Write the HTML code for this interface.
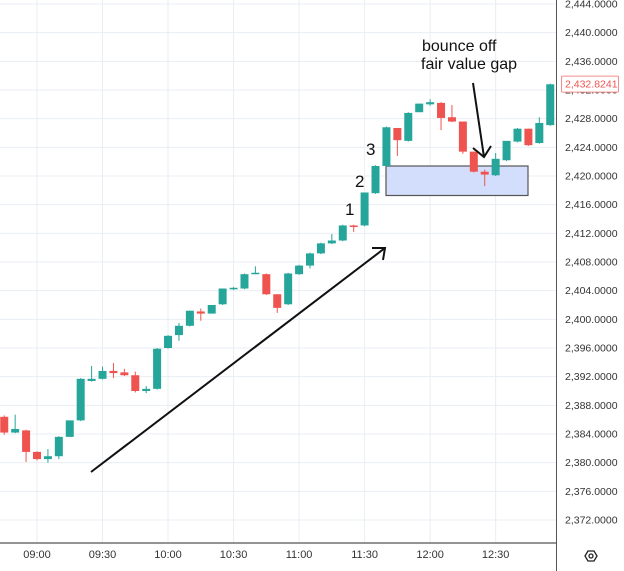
<!DOCTYPE html>
<html><head><meta charset="utf-8"><style>
html,body{margin:0;padding:0;background:#fff;}
svg{display:block;font-family:"Liberation Sans",sans-serif;}
</style></head><body>
<svg id="chart" width="624" height="571" viewBox="0 0 624 571">
<g id="grid"></g>
<rect x="386" y="166" width="142" height="29.5" fill="#d3defc" stroke="#555" stroke-width="1.2"/>
<g id="candles"></g>
<g id="axes"></g>
<g>
<line x1="91" y1="472" x2="385" y2="248" stroke="#111" stroke-width="2"/>
<polyline points="372,248 385,248 383,260" fill="none" stroke="#111" stroke-width="2"/>
<line x1="473" y1="83" x2="484" y2="157" stroke="#111" stroke-width="2"/>
<polyline points="473,148 484,157 491,146" fill="none" stroke="#111" stroke-width="2"/>
<text x="422" y="51" font-size="16" fill="#111">bounce off</text>
<text x="421" y="69" font-size="16" fill="#111">fair value gap</text>
<text x="366" y="155" font-size="17" fill="#111">3</text>
<text x="355" y="187" font-size="17" fill="#111">2</text>
<text x="345" y="215" font-size="17" fill="#111">1</text>
</g>
</svg>
<script>
const opens  = [2386.4,2384.2,2384.5,2381.5,2380.5,2380.9,2383.6,2385.9,2391.4,2391.7,2392.8,2392.6,2392.2,2390.0,2390.3,2396.0,2397.8,2399.1,2401.1,2400.8,2402.1,2404.2,2404.3,2406.4,2406.3,2403.5,2402.1,2406.3,2407.5,2409.2,2410.6,2411.0,2413.1,2413.1,2417.6,2421.4,2426.7,2424.9,2428.9,2430.0,2430.2,2428.2,2427.6,2423.4,2420.6,2420.1,2422.2,2424.8,2426.6,2424.6,2427.1];
const closes = [2384.2,2384.7,2381.5,2380.5,2380.9,2383.6,2385.9,2391.7,2391.7,2392.8,2392.5,2392.2,2390.0,2390.3,2395.9,2397.7,2399.1,2401.2,2400.8,2402.0,2404.3,2404.4,2406.3,2406.5,2403.5,2401.6,2406.4,2407.5,2409.2,2410.6,2411.0,2413.1,2412.9,2417.7,2421.4,2426.8,2425.0,2428.8,2430.1,2430.3,2428.1,2427.6,2423.4,2420.6,2420.2,2422.4,2424.9,2426.6,2424.3,2427.4,2432.8];
const highs  = [2386.6,2386.7,2384.6,2381.6,2381.9,2383.7,2385.9,2391.8,2393.5,2393.4,2393.9,2393.1,2392.7,2390.7,2396.0,2397.8,2399.5,2401.2,2401.5,2402.0,2404.3,2404.5,2406.4,2407.4,2406.4,2403.5,2406.5,2407.6,2409.3,2410.7,2411.9,2413.2,2413.2,2417.7,2421.5,2426.9,2426.7,2428.9,2430.1,2430.7,2430.3,2429.9,2427.6,2423.4,2420.9,2423.2,2424.9,2426.7,2426.6,2428.2,2432.9];
const lows   = [2383.9,2384.1,2380.1,2380.3,2380.0,2380.5,2383.6,2385.8,2391.3,2391.6,2391.8,2392.1,2389.8,2389.7,2390.2,2395.9,2397.0,2399.0,2399.8,2400.8,2402.0,2404.1,2404.2,2406.3,2403.4,2400.9,2402.0,2406.2,2407.1,2409.1,2410.5,2410.9,2412.2,2413.0,2417.5,2421.3,2422.8,2424.8,2429.6,2429.8,2426.4,2427.5,2423.1,2420.5,2418.6,2420.0,2422.1,2424.7,2424.2,2424.5,2427.0];
const priceTicks = [2444,2440,2436,2432,2428,2424,2420,2416,2412,2408,2404,2400,2396,2392,2388,2384,2380,2376,2372];
const timeLabels = ["09:00","09:30","10:00","10:30","11:00","11:30","12:00","12:30"];
const timeIndex  = [3,9,15,21,27,33,39,45];
const lastPrice = 2432.8241;

const NS="http://www.w3.org/2000/svg";
function y(p){return 4+(2444-p)*7.1667;}
function x(i){return 37+(i-3)*10.92;}
function mk(tag,attrs,parent){const e=document.createElementNS(NS,tag);for(const k in attrs)e.setAttribute(k,attrs[k]);parent.appendChild(e);return e;}
const grid=document.getElementById('grid'),cg=document.getElementById('candles'),ax=document.getElementById('axes');
priceTicks.forEach(p=>{const l=mk('line',{x1:0,x2:556,y1:y(p),y2:y(p),stroke:'#e9eef3','stroke-width':1},grid);

});
timeIndex.forEach(i=>{const l=mk('line',{x1:x(i),x2:x(i),y1:0,y2:543,stroke:'#e9eef3','stroke-width':1},grid);

});
opens.forEach((o,i)=>{const c=closes[i];const up=c>=o;const col=up?'#26a69a':'#ef5350';
const g=mk('g',{},cg);


mk('line',{x1:x(i),x2:x(i),y1:y(highs[i]),y2:y(lows[i]),stroke:col,'stroke-width':1},g);
const t=y(Math.max(o,c)),b=y(Math.min(o,c));
mk('rect',{x:x(i)-4,y:t,width:8,height:Math.max(1.5,b-t),fill:col},g);});
mk('rect',{x:556,y:0,width:68,height:571,fill:'#fff'},ax);
mk('rect',{x:0,y:543,width:556,height:28,fill:'#fff'},ax);
const va=mk('line',{x1:556.5,x2:556.5,y1:0,y2:571,stroke:'#555','stroke-width':1},ax);


const ha=mk('line',{x1:0,x2:556,y1:543,y2:543,stroke:'#555','stroke-width':1.2},ax);


priceTicks.forEach(p=>{const t=mk('text',{x:565,y:y(p)+3.5,'font-size':10.5,fill:'#333'},ax);t.textContent=p.toLocaleString('en-US',{minimumFractionDigits:4,maximumFractionDigits:4});

});
const ly=y(lastPrice);
const lb=mk('rect',{x:561.5,y:ly-8,width:57,height:16,fill:'#fff',stroke:'#f28b8b','stroke-width':1,rx:1},ax);


const lt=mk('text',{x:565,y:ly+3.5,'font-size':10.5,fill:'#ef5350'},ax);lt.textContent=lastPrice.toLocaleString('en-US',{minimumFractionDigits:4});


timeLabels.forEach((s,k)=>{const t=mk('text',{x:x(timeIndex[k]),y:558,'font-size':11,fill:'#333','text-anchor':'middle'},ax);t.textContent=s;

});
const gear=mk('g',{},ax);


mk('polygon',{points:'585,556 588,551 594,551 597,556 594,561 588,561',fill:'none',stroke:'#222','stroke-width':1.3},gear);
mk('circle',{cx:591,cy:556,r:2,fill:'none',stroke:'#222','stroke-width':1.3},gear);
</script>
</body></html>
